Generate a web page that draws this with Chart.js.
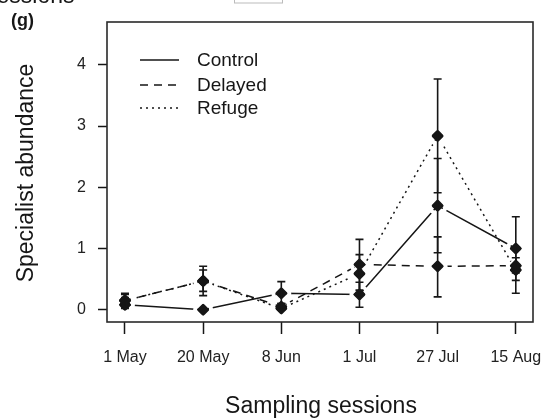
<!DOCTYPE html>
<html>
<head>
<meta charset="utf-8">
<script src="https://cdn.jsdelivr.net/npm/chart.js@4"></script>
<style>
html, body { margin: 0; padding: 0; background: #fff; }
#wrap { position: relative; width: 541px; height: 419px; }
</style>
</head>
<body>
<div id="wrap"><canvas id="chart" width="541" height="419"></canvas></div>
<script>
// sampling sessions (x categories)
const sessions = ["1 May", "20 May", "8 Jun", "1 Jul", "27 Jul", "15 Aug"];
const yTicks = [0, 1, 2, 3, 4];

// means per treatment
const control = [0.08, 0.0, 0.27, 0.25, 1.70, 1.00];
const delayed = [0.15, 0.47, 0.05, 0.74, 0.71, 0.72];
const refuge = [0.15, 0.47, 0.02, 0.59, 2.84, 0.65];

// error bar low / high
const controlLo = [0.02, 0.0, 0.10, 0.04, 0.93, 0.48];
const controlHi = [0.20, 0.0, 0.46, 0.45, 2.47, 1.52];
const delayedLo = [0.05, 0.23, 0.0, 0.32, 0.21, 0.60];
const delayedHi = [0.27, 0.71, 0.10, 1.15, 1.19, 0.85];
const refugeLo = [0.05, 0.30, 0.0, 0.28, 1.91, 0.27];
const refugeHi = [0.25, 0.65, 0.05, 0.90, 3.77, 1.03];

const ink = "#161616";
const font = "'Liberation Sans', Arial, sans-serif";

function toPoints(vals, lo, hi) {
    return vals.map((v, i) => ({ x: i, y: v, lo: lo[i], hi: hi[i] }));
}

// leave a small gap in each line around its own points (like R type="b")
const lineGaps = {
    id: "lineGaps",
    beforeDatasetDraw(chart, args) {
        const ctx = chart.ctx;
        ctx.save();
        ctx.beginPath();
        ctx.rect(0, 0, chart.width, chart.height);
        args.meta.data.forEach((pt) => {
            ctx.moveTo(pt.x + 10, pt.y);
            ctx.arc(pt.x, pt.y, 10, 0, Math.PI * 2);
            ctx.moveTo(pt.x + 6, pt.y);
            ctx.arc(pt.x, pt.y, 6, 0, Math.PI * 2);
        });
        ctx.clip("evenodd");
    },
    afterDatasetDraw(chart) {
        chart.ctx.restore();
    }
};

const errorBars = {
    id: "errorBars",
    afterDatasetsDraw(chart) {
        const ctx = chart.ctx;
        const xs = chart.scales.x, ys = chart.scales.y;
        ctx.save();
        ctx.strokeStyle = ink;
        ctx.lineWidth = 1.6;
        chart.data.datasets.forEach((ds) => {
            ds.data.forEach((p) => {
                if (p.hi - p.lo < 0.001) return;
                const x = xs.getPixelForValue(p.x);
                const y1 = ys.getPixelForValue(p.lo);
                const y2 = ys.getPixelForValue(p.hi);
                ctx.beginPath();
                ctx.moveTo(x, y1); ctx.lineTo(x, y2);
                ctx.moveTo(x - 4, y1); ctx.lineTo(x + 4, y1);
                ctx.moveTo(x - 4, y2); ctx.lineTo(x + 4, y2);
                ctx.stroke();
            });
        });
        ctx.restore();
    }
};

const decorations = {
    id: "decorations",
    afterDraw(chart) {
        const ctx = chart.ctx;
        const a = chart.chartArea;
        ctx.save();
        // box around plot
        ctx.strokeStyle = "#2a2a2a";
        ctx.lineWidth = 1.6;
        ctx.strokeRect(a.left, a.top, a.right - a.left, a.bottom - a.top);

        // legend
        ctx.font = "19px " + font;
        ctx.fillStyle = ink;
        ctx.textBaseline = "middle";
        const rows = [60, 85, 108];
        chart.data.datasets.forEach((ds, i) => {
            ctx.beginPath();
            ctx.setLineDash(ds.borderDash || []);
            ctx.strokeStyle = ink;
            ctx.lineWidth = ds.borderWidth;
            ctx.moveTo(140, rows[i]);
            ctx.lineTo(179, rows[i]);
            ctx.stroke();
            ctx.setLineDash([]);
            ctx.fillText(ds.label, 197, rows[i] + 1);
        });

        // axis titles
        ctx.font = "23px " + font;
        ctx.textAlign = "center";
        ctx.fillText("Sampling sessions", 321, 407);
        ctx.save();
        ctx.translate(27, 173);
        ctx.rotate(-Math.PI / 2);
        ctx.fillText("Specialist abundance", 0, 0);
        ctx.restore();

        // panel label and cropped leftovers
        ctx.font = "bold 18px " + font;
        ctx.textAlign = "left";
        ctx.fillText("(g)", 11, 21);
        ctx.font = "23px " + font;
        ctx.textBaseline = "alphabetic";
        ctx.fillText("sessions", -15, 3);
        ctx.strokeStyle = "#bbb";
        ctx.lineWidth = 1;
        ctx.strokeRect(234.5, -2, 48, 5);
        ctx.restore();
    }
};

new Chart(document.getElementById("chart"), {
    type: "line",
    data: {
        datasets: [
            {
                label: "Control",
                data: toPoints(control, controlLo, controlHi),
                borderColor: ink,
                borderWidth: 1.5,
            },
            {
                label: "Delayed",
                data: toPoints(delayed, delayedLo, delayedHi),
                borderColor: ink,
                borderWidth: 1.5,
                borderDash: [8, 6],
            },
            {
                label: "Refuge",
                data: toPoints(refuge, refugeLo, refugeHi),
                borderColor: ink,
                borderWidth: 1.5,
                borderDash: [2, 4],
            },
        ],
    },
    options: {
        responsive: false,
        animation: false,
        layout: { padding: { left: 0, top: 22, right: 8, bottom: 0 } },
        elements: {
            point: {
                pointStyle: "rectRot",
                radius: 5.5,
                backgroundColor: ink,
                borderColor: ink,
                borderWidth: 0,
            },
            line: { tension: 0, fill: false },
        },
        plugins: {
            legend: { display: false },
            tooltip: { enabled: false },
        },
        scales: {
            x: {
                type: "linear",
                min: -0.23,
                max: 5.22,
                afterBuildTicks: (s) => { s.ticks = sessions.map((_, i) => ({ value: i })); },
                afterFit: (s) => { s.height = 97; s.paddingLeft = 0; s.paddingRight = 0; },
                ticks: {
                    callback: (v) => sessions[v],
                    color: "#222",
                    font: { family: font, size: 16 },
                    padding: 14,
                    maxRotation: 0,
                },
                grid: { drawOnChartArea: false, tickLength: 12, color: ink, tickWidth: 1.5 },
                border: { display: false },
            },
            y: {
                min: -0.2,
                max: 4.7,
                afterBuildTicks: (s) => { s.ticks = yTicks.map((v) => ({ value: v })); },
                afterFit: (s) => { s.width = 107; s.paddingTop = 0; s.paddingBottom = 0; },
                ticks: {
                    color: "#222",
                    font: { family: font, size: 16 },
                    padding: 12,
                },
                grid: { drawOnChartArea: false, tickLength: 9, color: ink, tickWidth: 1.5 },
                border: { display: false },
            },
        },
    },
    plugins: [lineGaps, errorBars, decorations],
});
</script>
</body>
</html>
